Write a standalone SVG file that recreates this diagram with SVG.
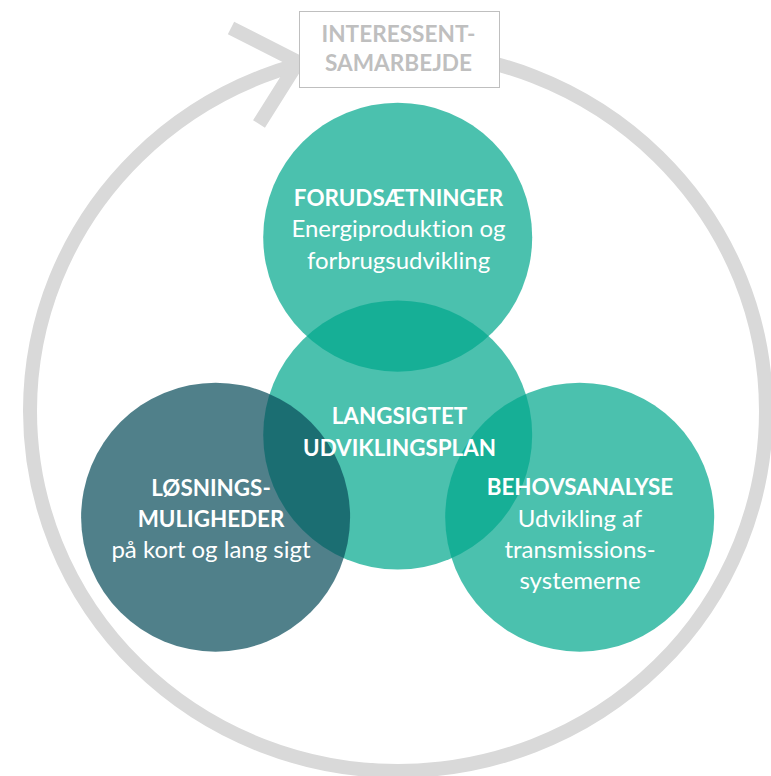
<svg xmlns="http://www.w3.org/2000/svg" width="771" height="776" viewBox="0 0 771 776">
  <style>
    text { font-family: Lato, "Open Sans", "Liberation Sans", sans-serif; font-variant-ligatures: none; text-anchor: middle; }
    .t { font-size: 24px; fill: #ffffff; }
    .b { font-size: 22.4px; font-weight: bold; }
    .teal { fill: #02a88d; fill-opacity: 0.71; }
    .dark { fill: #094c5a; fill-opacity: 0.71; }
    .ring { fill: none; stroke: #d9d9d9; stroke-width: 14; }
    .box-t { font-size: 22.6px; font-weight: bold; fill: #bfbfbf; }
  </style>
  <rect width="771" height="776" fill="#ffffff"/>

  <!-- cycle ring with arrowhead -->
  <g id="connectors">
    <ellipse class="ring" cx="398" cy="411" rx="368" ry="360"/>
    <polyline class="ring" points="231,28 298,62 259,124" stroke-linejoin="miter"/>
  </g>

  <!-- stakeholder box -->
  <g id="interessent">
    <rect x="299.5" y="11.5" width="200" height="76" fill="#ffffff" stroke="#bfbfbf" stroke-width="1"/>
    <text class="box-t" x="398.5" y="41.5">INTERESSENT-</text>
    <text class="box-t" x="398.5" y="71">SAMARBEJDE</text>
  </g>

  <g id="forudsaetninger">
    <circle class="teal" cx="397.7" cy="237.2" r="134.5"/>
  </g>
  <g id="langsigtet">
    <circle class="teal" cx="397.7" cy="435" r="134.5"/>
  </g>
  <g id="behovsanalyse">
    <circle class="teal" cx="579.7" cy="517.2" r="134.5"/>
  </g>
  <g id="loesninger">
    <circle class="dark" cx="215.6" cy="517.2" r="134.5"/>
  </g>

  <!-- labels -->
  <g id="labels">
    <text class="t b" x="398.5" y="205.5">FORUDSÆTNINGER</text>
    <text class="t" x="398.5" y="237">Energiproduktion og</text>
    <text class="t" x="398.5" y="268.5">forbrugsudvikling</text>

    <text class="t b" x="399.5" y="423.5">LANGSIGTET</text>
    <text class="t b" x="399.5" y="455.5">UDVIKLINGSPLAN</text>

    <text class="t b" x="211" y="496">LØSNINGS-</text>
    <text class="t b" x="211" y="527">MULIGHEDER</text>
    <text class="t" x="211" y="558">på kort og lang sigt</text>

    <text class="t b" x="580" y="495">BEHOVSANALYSE</text>
    <text class="t" x="580" y="527">Udvikling af</text>
    <text class="t" x="580" y="558">transmissions-</text>
    <text class="t" x="580" y="589">systemerne</text>
  </g>
</svg>
